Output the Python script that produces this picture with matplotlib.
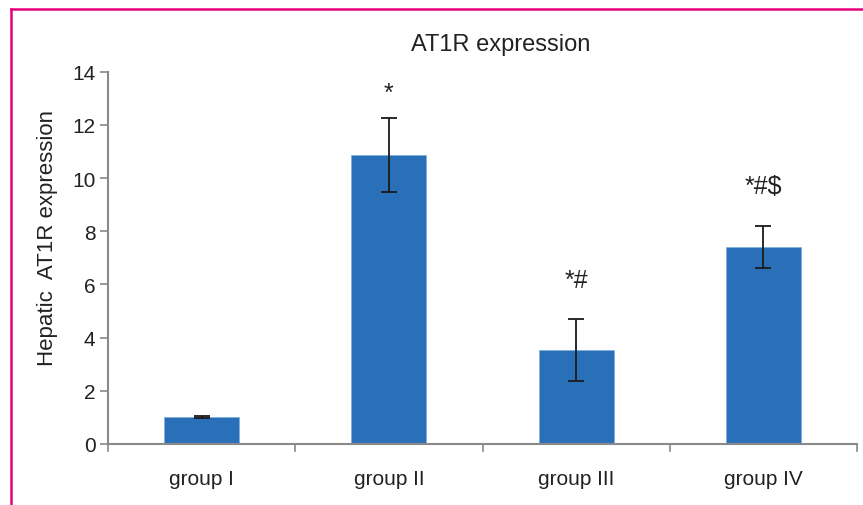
import numpy as np
import matplotlib
matplotlib.use("Agg")
import matplotlib.pyplot as plt
from matplotlib.lines import Line2D

plt.rcParams["font.family"] = ["Liberation Sans", "DejaVu Sans"]

groups = ["group I", "group II", "group III", "group IV"]
means = [1.02, 10.87, 3.53, 7.40]
errors = [0.04, 1.40, 1.17, 0.80]
marks = ["", "*", "*#", "*#$"]
mark_y = [None, 13.2, 6.15, 9.7]

W, H = 863, 506
fig = plt.figure(figsize=(W / 100, H / 100), dpi=100)
ax = fig.add_axes([108 / W, 1 - 445 / H, (857 - 108) / W, (445 - 72.7) / H])

x = np.arange(len(groups))
ax.bar(x, means, width=0.4, color="#2a70b8", edgecolor="#7fb0de", linewidth=0.6, zorder=2)
ax.errorbar(x, means, yerr=errors, fmt="none", ecolor="#1a1a1a", elinewidth=1.3,
            capsize=6, capthick=1.3, zorder=3)
for xi, m, my in zip(x, marks, mark_y):
    if m:
        ax.text(xi, my, m, ha="center", va="center", fontsize=18, color="#222222")

ax.set_xlim(-0.5, len(groups) - 0.5)
ax.set_ylim(0, 14)
ax.set_yticks(np.arange(0, 15, 2))
ax.set_xticks(x)
ax.set_xticklabels(groups, fontsize=15, color="#222222")
ax.tick_params(axis="y", labelsize=15, colors="#898989", labelcolor="#222222",
               direction="out", length=6, width=1.2, pad=3)
ax.tick_params(axis="x", length=0, pad=18)
# category boundary ticks
for b in np.arange(-0.5, len(groups), 1.0):
    ax.plot([b, b], [0, -0.25], color="#898989", lw=1.2, clip_on=False,
            transform=ax.transData)
for side in ["top", "right"]:
    ax.spines[side].set_visible(False)
for side in ["left", "bottom"]:
    ax.spines[side].set_color("#898989")
    ax.spines[side].set_linewidth(1.5)

fig.text(501 / W, 1 - 45 / H, "AT1R expression", ha="center", va="center",
         fontsize=17, color="#222222")
fig.text(47 / W, 1 - 238 / H, "Hepatic  AT1R expression", ha="center", va="center",
         rotation=90, fontsize=16, color="#222222")

# magenta frame lines
fig.add_artist(Line2D([11 / W, 1.0], [1 - 10 / H, 1 - 10 / H], color="#e6007e", lw=1.8,
                      transform=fig.transFigure))
fig.add_artist(Line2D([11 / W, 11 / W], [0, 1 - 10 / H], color="#e6007e", lw=1.8,
                      transform=fig.transFigure))

fig.savefig("out.png", dpi=100)
